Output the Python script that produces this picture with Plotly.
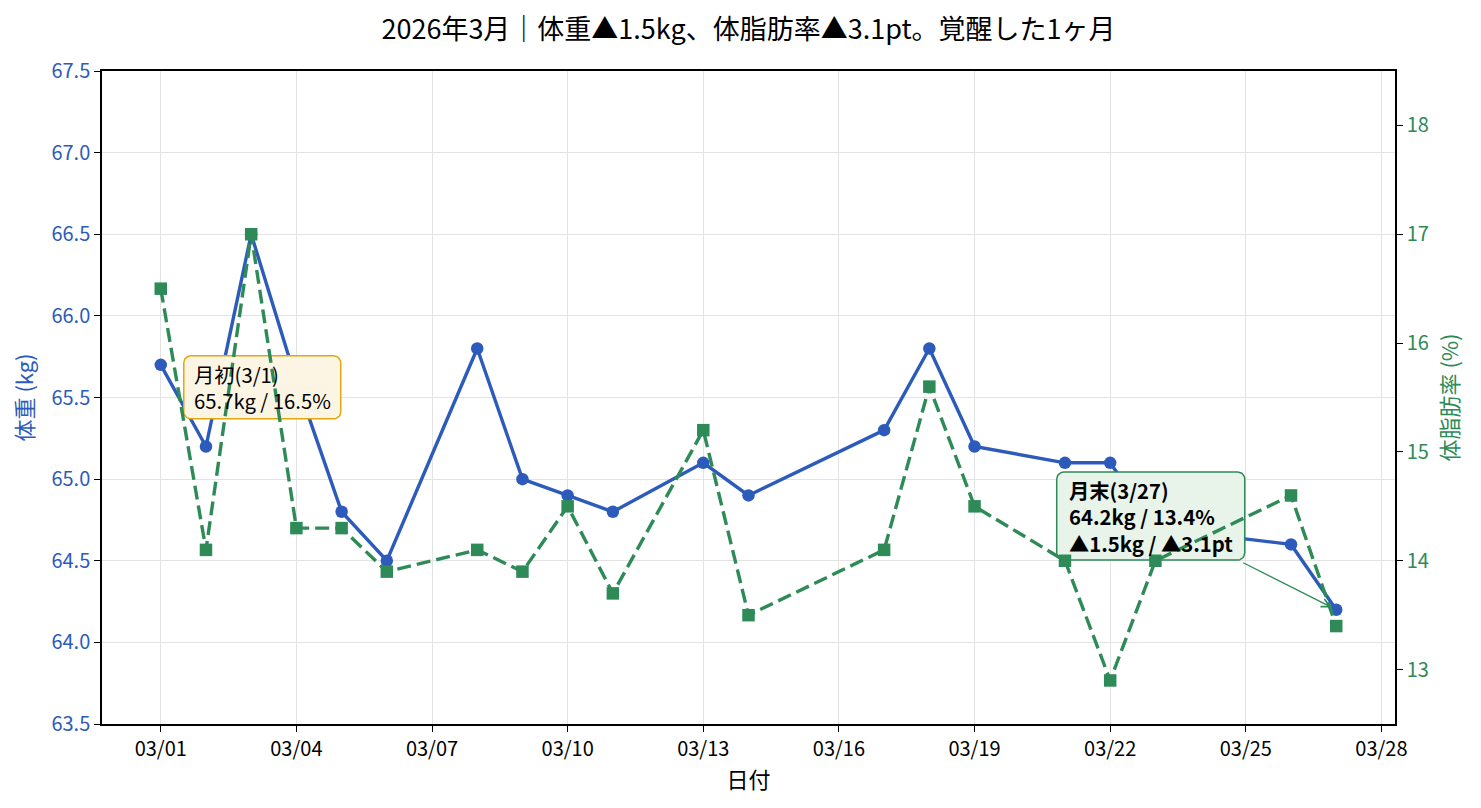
import plotly.graph_objects as go
import pandas as pd
import numpy as np

# ---------------- data ----------------
dates = ["2026-03-01", "2026-03-02", "2026-03-03", "2026-03-04", "2026-03-05",
         "2026-03-06", "2026-03-08", "2026-03-09", "2026-03-10", "2026-03-11",
         "2026-03-13", "2026-03-14", "2026-03-17", "2026-03-18", "2026-03-19",
         "2026-03-21", "2026-03-22", "2026-03-23", "2026-03-26", "2026-03-27"]
weight = [65.7, 65.2, 66.5, 65.6, 64.8, 64.5, 65.8, 65.0, 64.9, 64.8,
          65.1, 64.9, 65.3, 65.8, 65.2, 65.1, 65.1, 64.7, 64.6, 64.2]
body_fat = [16.5, 14.1, 17.0, 14.3, 14.3, 13.9, 14.1, 13.9, 14.5, 13.7,
            15.2, 13.5, 14.1, 15.6, 14.5, 14.0, 12.9, 14.0, 14.6, 13.4]

title_text = "2026年3月｜体重▲1.5kg、体脂肪率▲3.1pt。覚醒した1ヶ月"
start_label = "月初(3/1)<br>65.7kg / 16.5%"
end_label = "<b>月末(3/27)<br>64.2kg / 13.4%<br>▲1.5kg / ▲3.1pt</b>"

# ---------------- style ----------------
FONT = "Noto Sans CJK JP"
BLUE = "#2c5bbb"
GREEN = "#2e8b57"
W, H = 1481, 808
ML, MR, MT, MB = 102, 86, 71, 84
PLOT_W = W - ML - MR
PLOT_H = H - MT - MB

d = pd.to_datetime(dates)
pad_days = (d[-1] - d[0]).days * 0.05
x0 = d[0] - pd.Timedelta(days=pad_days)
x1 = d[-1] + pd.Timedelta(days=pad_days)
span_days = (x1 - x0) / pd.Timedelta(days=1)
Y1 = (63.5, 67.5)
Y2 = (12.5, 18.5)
PX_PER_DAY = PLOT_W / span_days
PX_PER_KG = PLOT_H / (Y1[1] - Y1[0])


def rounded_box(anchor_date, anchor_val, left, right, top, bottom, r=7, n=10):
    """Box given by pixel offsets from an anchor point (y offsets positive downwards)."""
    centers = [((left + r, top + r), 180, 270), ((right - r, top + r), 270, 360),
               ((right - r, bottom - r), 0, 90), ((left + r, bottom - r), 90, 180)]
    px, py = [], []
    for (cx, cy), a0, a1 in centers:
        for a in np.linspace(np.radians(a0), np.radians(a1), n):
            px.append(cx + r * np.cos(a))
            py.append(cy + r * np.sin(a))
    px.append(px[0]); py.append(py[0])
    xs = [anchor_date + pd.Timedelta(days=v / PX_PER_DAY) for v in px]
    ys = [anchor_val - v / PX_PER_KG for v in py]
    return xs, ys


fig = go.Figure()

fig.add_trace(go.Scatter(
    x=d, y=weight, mode="lines+markers", name="体重",
    line=dict(color=BLUE, width=3.4),
    marker=dict(symbol="circle", size=12.5, color=BLUE),
    xaxis="x", yaxis="y", hoverinfo="skip"))

# annotation boxes (drawn above the weight line, below the body-fat line)
bx, by = rounded_box(d[0], weight[0], 23, 180, -9, 54)
fig.add_trace(go.Scatter(x=bx, y=by, mode="lines", fill="toself",
                         fillcolor="#fdf5e4", line=dict(color="#e2a80f", width=1.5),
                         xaxis="x", yaxis="y", hoverinfo="skip", showlegend=False))
bx2, by2 = rounded_box(d[-1], weight[-1], -279.5, -91.5, -137.7, -49.7)
fig.add_trace(go.Scatter(x=bx2, y=by2, mode="lines", fill="toself",
                         fillcolor="#e8f3ea", line=dict(color=GREEN, width=1.5),
                         xaxis="x", yaxis="y", hoverinfo="skip", showlegend=False))

fig.add_trace(go.Scatter(
    x=d, y=body_fat, mode="lines+markers", name="体脂肪率",
    line=dict(color=GREEN, width=3.4, dash="14px,6px"),
    marker=dict(symbol="square", size=12.5, color=GREEN),
    xaxis="x", yaxis="y2", hoverinfo="skip"))

fig.add_annotation(x=d[0], y=weight[0], xref="x", yref="y", text=start_label,
                   showarrow=False, xanchor="center", yanchor="middle", align="left",
                   xshift=101.5, yshift=-22.5,
                   font=dict(family=FONT, size=20.3, color="black"))
fig.add_annotation(x=d[-1], y=weight[-1], xref="x", yref="y", text=end_label,
                   showarrow=False, xanchor="center", yanchor="middle", align="left",
                   xshift=-185.5, yshift=93.7,
                   font=dict(family=FONT, size=20.3, color="black"))
fig.add_annotation(x=d[-1], y=weight[-1], xref="x", yref="y", text="",
                   showarrow=True, ax=-94.5, ay=-47.7, arrowhead=5, arrowsize=1.3,
                   arrowwidth=1.3, arrowcolor=GREEN, standoff=5)

tickfont = dict(family=FONT, size=20, color="black")
GRID = "#e3e3e3"
fig.update_layout(
    width=W, height=H,
    margin=dict(l=ML, r=MR, t=MT, b=MB, autoexpand=False),
    paper_bgcolor="white", plot_bgcolor="white",
    showlegend=False,
    font=dict(family=FONT, color="black"),
    title=dict(text=title_text, x=0.5, xref="paper", xanchor="center",
               y=1 - 30 / H, yref="container", yanchor="middle",
               font=dict(family=FONT, size=27, color="black")),
    xaxis=dict(
        type="date", range=[x0, x1], tick0="2026-03-01", dtick=3 * 86400000,
        tickformat="%m/%d", tickfont=tickfont,
        ticks="outside", ticklen=6, tickwidth=1.3, tickcolor="black",
        showline=True, linecolor="black", linewidth=1.5, mirror=True,
        showgrid=True, gridcolor=GRID, gridwidth=1.2, zeroline=False,
        title=dict(text="日付", font=dict(family=FONT, size=22, color="black"), standoff=8),
    ),
    yaxis=dict(
        range=list(Y1), dtick=0.5, tickformat=".1f",
        tickfont=dict(family=FONT, size=20, color=BLUE),
        ticks="outside", ticklen=6, tickwidth=1.3, tickcolor="black",
        showline=True, linecolor="black", linewidth=1.5,
        showgrid=True, gridcolor=GRID, gridwidth=1.2, zeroline=False,
        title=dict(text="体重 (kg)", font=dict(family=FONT, size=22, color=BLUE), standoff=12),
    ),
    yaxis2=dict(
        range=list(Y2), dtick=1, overlaying="y", side="right",
        tickfont=dict(family=FONT, size=20, color=GREEN),
        ticks="outside", ticklen=6, tickwidth=1.3, tickcolor="black",
        showline=True, linecolor="black", linewidth=1.5,
        showgrid=False, zeroline=False,
        title=dict(text="体脂肪率 (%)", font=dict(family=FONT, size=22, color=GREEN), standoff=15),
    ),
)

fig.write_html("out.html")
